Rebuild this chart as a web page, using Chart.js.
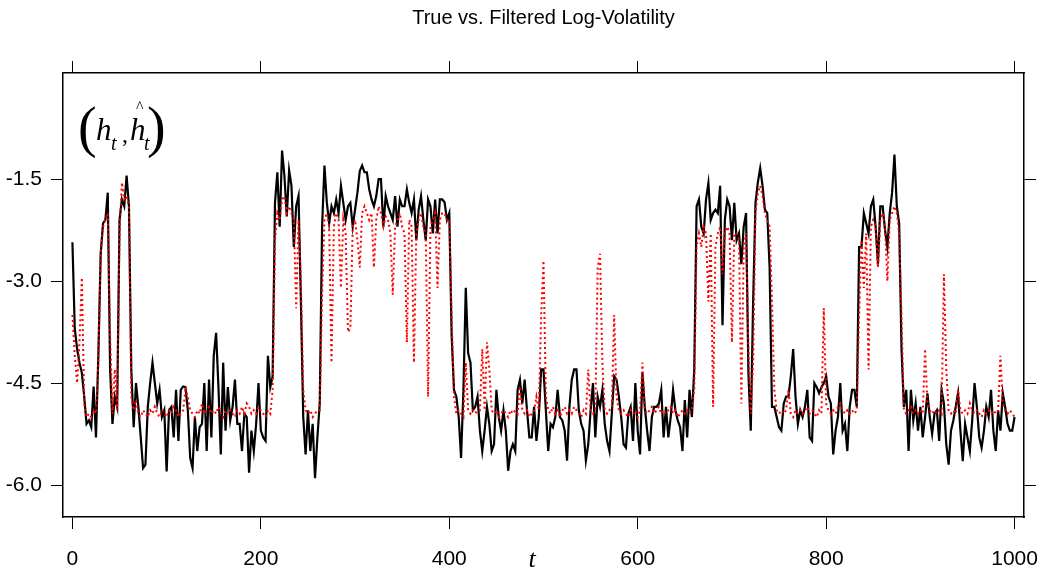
<!DOCTYPE html>
<html>
<head>
<meta charset="utf-8">
<script src="https://cdn.jsdelivr.net/npm/chart.js@4.4.1/dist/chart.umd.min.js"></script>
<style>
  html, body { margin: 0; padding: 0; background: #fff; }
</style>
</head>
<body>
<canvas id="graph" width="1039" height="577"></canvas>
<script>
var STEP = 2.5;

var trueH = [
  -2.43, -3.7, -4.0, -4.2, -4.35, -4.7, -5.1, -5.05, -5.15, -4.55, -5.3, -4.1, -2.6, -2.15, -2.1, -1.7, -4.3, -5.1, -4.7, -4.85,
  -2.1, -1.8, -1.9, -1.45, -1.9, -4.3, -5.15, -4.5, -4.85, -5.3, -5.75, -5.7, -4.85, -4.5, -4.2, -4.5, -4.8, -4.6, -5.0, -4.9,
  -5.8, -4.9, -4.85, -5.3, -4.6, -5.35, -4.6, -4.55, -4.56, -4.9, -5.6, -5.75, -5.0, -5.5, -5.15, -5.1, -4.5, -5.5, -4.45, -5.3,
  -4.1, -3.76, -4.56, -5.55, -4.2, -5.2, -4.56, -5.05, -4.85, -4.45, -5.1, -5.1, -5.5, -4.95, -5.0, -5.82, -5.2, -5.5, -5.1, -4.5,
  -5.2, -5.3, -5.35, -4.1, -4.56, -4.4, -1.85, -1.4, -2.2, -1.08, -1.45, -2.05, -1.37, -1.6, -2.5, -1.9, -1.75, -3.3, -5.0, -5.55,
  -4.9, -5.5, -5.1, -5.9, -5.3, -4.8, -2.2, -1.3, -1.84, -2.15, -1.9, -2.0, -1.8, -2.0, -1.6, -1.85, -2.1, -1.9, -1.85, -2.2,
  -1.95, -1.7, -1.38, -1.3, -1.4, -1.4, -1.65, -1.8, -1.9, -1.75, -1.5, -1.5, -2.2, -1.75, -1.9, -2.0, -2.1, -1.75, -2.2, -1.8,
  -1.9, -1.9, -1.65, -1.85, -2.0, -1.8, -2.4, -1.95, -1.75, -2.1, -2.4, -1.8, -1.9, -2.3, -1.8, -2.3, -1.8, -1.8, -1.84, -2.1,
  -2.0, -3.8, -4.6, -4.7, -5.0, -5.6, -4.6, -3.1, -4.06, -4.2, -4.9, -4.85, -4.7, -5.2, -5.5, -5.2, -4.85, -5.1, -5.5, -5.4,
  -4.6, -5.0, -5.2, -4.9, -5.2, -5.79, -5.5, -5.4, -5.5, -4.6, -4.45, -4.8, -4.45, -4.9, -5.3, -5.3, -4.85, -5.35, -5.0, -4.3,
  -4.3, -4.9, -5.5, -5.1, -5.15, -5.0, -4.6, -5.0, -5.05, -5.2, -5.64, -4.85, -4.45, -4.3, -4.3, -4.9, -5.1, -5.2, -5.64, -5.4,
  -4.9, -4.5, -5.3, -4.7, -4.85, -4.6, -5.1, -5.35, -5.5, -4.95, -4.4, -4.45, -4.7, -5.0, -5.4, -5.45, -4.95, -4.85, -5.35, -4.5,
  -5.2, -5.55, -4.35, -4.85, -5.2, -5.5, -5.0, -4.85, -4.85, -4.8, -4.6, -5.3, -4.85, -5.3, -5.0, -4.6, -4.9, -5.05, -5.15, -5.5,
  -4.75, -5.3, -4.6, -5.0, -4.3, -1.9, -1.8, -2.2, -2.3, -1.8, -1.56, -2.1, -2.0, -1.95, -2.0, -1.6, -3.65, -2.1, -1.8, -1.9,
  -2.4, -1.85, -2.4, -2.3, -2.75, -2.2, -2.0, -4.36, -5.2, -3.3, -1.85, -1.55, -1.34, -1.6, -1.95, -2.0, -2.8, -4.85, -4.85, -5.0,
  -5.15, -5.2, -4.8, -4.7, -4.7, -4.4, -4.0, -4.7, -5.1, -4.9, -5.0, -4.85, -4.6, -5.3, -5.35, -4.5, -4.56, -4.65, -4.56, -4.5,
  -4.4, -4.7, -4.8, -5.55, -5.2, -5.0, -4.5, -5.2, -5.1, -5.5, -4.85, -4.6, -4.6, -4.85, -2.5, -2.5, -2.0, -2.15, -2.3, -1.9,
  -1.8, -2.2, -2.75, -1.9, -1.9, -2.25, -2.5, -2.0, -1.7, -1.14, -1.9, -2.15, -4.0, -4.85, -4.6, -5.5, -4.6, -5.05, -4.8, -5.2,
  -4.85, -5.3, -5.0, -4.65, -5.0, -5.25, -4.95, -4.9, -5.35, -4.6, -4.8, -5.4, -5.7, -5.2, -5.05, -4.85, -4.65, -5.2, -5.65, -5.1,
  -5.3, -5.5, -5.05, -4.5, -4.85, -5.3, -5.45, -5.2, -4.85, -5.0, -4.6, -5.2, -5.5, -4.9, -5.2, -4.65, -4.85, -5.1, -5.2, -5.2,
  -5.0
];

var filteredH = [
  -3.5, -4.1, -4.5, -3.9, -2.95, -4.8, -5.0, -4.95, -5.0, -4.9, -4.95, -4.2, -2.6, -2.2, -2.1, -2.0, -3.8, -4.95, -4.3, -4.9,
  -2.3, -1.55, -1.8, -1.75, -1.9, -4.7, -4.9, -4.75, -4.95, -5.0, -4.9, -4.95, -5.0, -4.9, -4.95, -4.85, -4.95, -5.0, -4.9, -4.95,
  -5.0, -4.9, -4.95, -4.85, -4.9, -5.0, -4.95, -4.9, -4.6, -4.7, -4.9, -4.95, -5.0, -4.9, -4.95, -4.8, -4.95, -4.9, -4.85, -4.95,
  -4.9, -4.95, -4.85, -4.95, -5.0, -4.9, -4.95, -4.9, -4.95, -5.0, -4.9, -4.95, -4.85, -4.95, -4.8, -4.85, -4.95, -4.9, -4.95, -4.85,
  -4.9, -4.95, -5.0, -4.9, -4.95, -4.6, -2.4, -2.0, -2.1, -1.8, -1.75, -2.0, -1.9, -2.0, -2.1, -3.4, -2.1, -3.0, -4.6, -4.9,
  -4.95, -4.9, -5.0, -4.95, -4.9, -4.9, -3.2, -2.1, -2.0, -2.2, -4.2, -2.2, -2.0, -2.1, -3.1, -2.1, -2.3, -3.75, -3.7, -2.2,
  -2.1, -2.4, -2.8, -2.0, -1.9, -2.0, -2.1, -2.0, -2.8, -2.1, -1.9, -2.0, -2.2, -2.05, -2.1, -2.3, -3.2, -2.2, -2.1, -2.0,
  -2.2, -2.3, -3.9, -2.1, -2.2, -4.2, -2.3, -2.1, -2.0, -2.2, -2.3, -4.7, -2.2, -2.1, -2.0, -3.1, -2.1, -2.0, -2.0, -2.1,
  -2.1, -3.5, -4.7, -4.95, -4.9, -4.95, -5.0, -4.2, -4.9, -4.95, -4.9, -4.95, -4.9, -4.9, -4.0, -4.9, -3.9, -4.3, -4.9, -4.95,
  -4.9, -5.0, -4.95, -4.9, -4.95, -5.0, -4.9, -4.95, -4.9, -4.95, -4.55, -4.9, -4.95, -4.9, -5.0, -4.95, -4.9, -4.7, -4.9, -3.5,
  -2.7, -4.7, -4.9, -4.95, -4.85, -4.95, -4.9, -5.0, -4.9, -4.85, -4.95, -4.9, -4.95, -4.85, -4.9, -4.95, -5.0, -4.9, -4.95, -4.3,
  -4.9, -4.95, -4.9, -2.8, -2.6, -4.2, -4.9, -4.95, -4.9, -4.85, -3.5, -4.7, -4.9, -4.95, -4.9, -4.95, -5.0, -4.9, -4.95, -4.9,
  -5.0, -4.9, -4.2, -4.9, -4.95, -4.9, -4.85, -4.95, -4.9, -4.85, -4.95, -4.9, -4.95, -4.9, -4.85, -4.95, -4.9, -5.0, -4.95, -4.9,
  -4.95, -4.9, -4.95, -4.9, -4.6, -2.5, -2.3, -2.5, -2.2, -2.3, -3.3, -2.3, -4.85, -2.5, -2.3, -2.2, -2.9, -2.3, -2.2, -2.3,
  -3.9, -2.3, -2.3, -2.4, -4.8, -2.5, -2.3, -4.0, -4.95, -4.2, -2.0, -1.7, -1.6, -1.75, -2.0, -2.1, -2.2, -3.3, -4.6, -4.9,
  -4.95, -4.9, -4.95, -4.9, -4.6, -4.95, -5.0, -4.9, -4.95, -4.9, -4.95, -4.9, -4.85, -4.95, -4.9, -4.95, -5.0, -4.9, -4.95, -3.4,
  -4.8, -4.9, -4.95, -4.9, -4.95, -4.85, -4.8, -4.9, -4.95, -4.9, -4.95, -4.9, -4.95, -4.9, -3.5, -2.4, -3.1, -2.3, -4.3, -2.2,
  -2.1, -2.2, -2.8, -2.1, -2.0, -2.2, -3.0, -2.1, -2.0, -1.9, -2.0, -2.3, -3.5, -4.9, -4.95, -4.9, -4.85, -4.95, -4.9, -4.95,
  -4.9, -4.95, -4.0, -4.8, -4.9, -4.95, -4.9, -4.95, -4.9, -4.95, -2.9, -4.3, -4.9, -4.95, -4.9, -4.95, -4.6, -4.9, -4.95, -4.9,
  -4.95, -4.8, -4.9, -4.95, -4.9, -4.95, -5.0, -4.9, -4.95, -4.9, -4.95, -4.9, -4.95, -4.9, -4.1, -4.8, -4.9, -4.95, -4.9, -4.95,
  -5.0
];

var xTicks = [0, 200, 400, 600, 800, 1000];
var yTicks = [-6.0, -4.5, -3.0, -1.5];

var sans = "'Liberation Sans', Arimo, Arial, sans-serif";
var serif = "'Liberation Serif', 'DejaVu Serif', serif";

function toPoints(arr) {
  return arr.map(function (v, i) { return { x: i * STEP, y: v }; });
}

function fixTicks(vals) {
  return function (scale) {
    scale.ticks = vals.map(function (v) { return { value: v }; });
  };
}

// force the axis box size and drop the label overflow padding
function boxSize(w, h) {
  return function (s) {
    if (w !== null) s.width = w;
    if (h !== null) s.height = h;
    s.paddingLeft = 0;
    s.paddingRight = 0;
    s.paddingTop = 0;
    s.paddingBottom = 0;
  };
}

var grid = {
  display: true,
  drawOnChartArea: false,
  drawTicks: true,
  tickLength: 12,
  tickColor: '#000',
  tickWidth: 1
};
var border = { display: true, color: '#000', width: 1.5 };

// (h_t , h-hat_t) in the corner and the italic t under the axis
var mathLabels = {
  id: 'mathLabels',
  afterDraw: function (chart) {
    var c = chart.ctx;
    c.save();
    c.fillStyle = '#000';
    c.textBaseline = 'alphabetic';
    c.font = '56px ' + serif;
    c.fillText('(', 78, 146);
    c.fillText(')', 147, 146);
    c.font = 'italic 31px ' + serif;
    c.fillText('h', 96, 140);
    c.fillText('h', 130, 140);
    c.font = 'italic 20px ' + serif;
    c.fillText('t', 111, 150);
    c.fillText('t', 144, 150);
    c.font = '24px ' + serif;
    c.fillText(',', 122, 142);
    c.font = '16px ' + serif;
    c.fillText('^', 136, 112);
    c.font = 'italic 26px ' + serif;
    c.textAlign = 'center';
    c.fillText('t', 532, 567);
    c.restore();
  }
};

new Chart(document.getElementById('graph'), {
  type: 'line',
  plugins: [mathLabels],
  data: {
    datasets: [
      {
        label: 'filtered',
        data: toPoints(filteredH),
        borderColor: '#ff0000',
        borderWidth: 2,
        borderDash: [2, 3],
        pointRadius: 0,
        tension: 0,
        order: 0
      },
      {
        label: 'true',
        data: toPoints(trueH),
        borderColor: '#000000',
        borderWidth: 2.2,
        pointRadius: 0,
        tension: 0,
        order: 1
      }
    ]
  },
  options: {
    responsive: false,
    animation: false,
    layout: { padding: 0, autoPadding: false },
    plugins: {
      legend: { display: false },
      tooltip: { enabled: false },
      title: {
        display: true,
        text: 'True vs. Filtered Log-Volatility',
        color: '#000',
        fullSize: false,
        font: { family: sans, size: 20, weight: 'normal' },
        padding: { top: 6, bottom: 0 }
      }
    },
    scales: {
      x: {
        type: 'linear',
        position: 'bottom',
        min: -10,
        max: 1010,
        afterBuildTicks: fixTicks(xTicks),
        afterFit: boxSize(null, 60),
        grid: grid,
        border: border,
        ticks: {
          color: '#000',
          padding: 18,
          maxRotation: 0,
          font: { family: sans, size: 21 },
          callback: function (v) { return String(v); }
        }
      },
      xTop: {
        type: 'linear',
        position: 'top',
        min: -10,
        max: 1010,
        afterBuildTicks: fixTicks(xTicks),
        afterFit: boxSize(null, 43),
        grid: grid,
        border: border,
        ticks: { display: false }
      },
      y: {
        type: 'linear',
        position: 'left',
        min: -6.47,
        max: 0.06,
        afterBuildTicks: fixTicks(yTicks),
        afterFit: boxSize(63, null),
        grid: grid,
        border: border,
        ticks: {
          color: '#000',
          padding: 9,
          font: { family: sans, size: 21 },
          callback: function (v) { return v.toFixed(1); }
        }
      },
      yRight: {
        type: 'linear',
        position: 'right',
        min: -6.47,
        max: 0.06,
        afterBuildTicks: fixTicks(yTicks),
        afterFit: boxSize(15, null),
        grid: grid,
        border: border,
        ticks: { display: false }
      }
    }
  }
});
</script>
</body>
</html>
